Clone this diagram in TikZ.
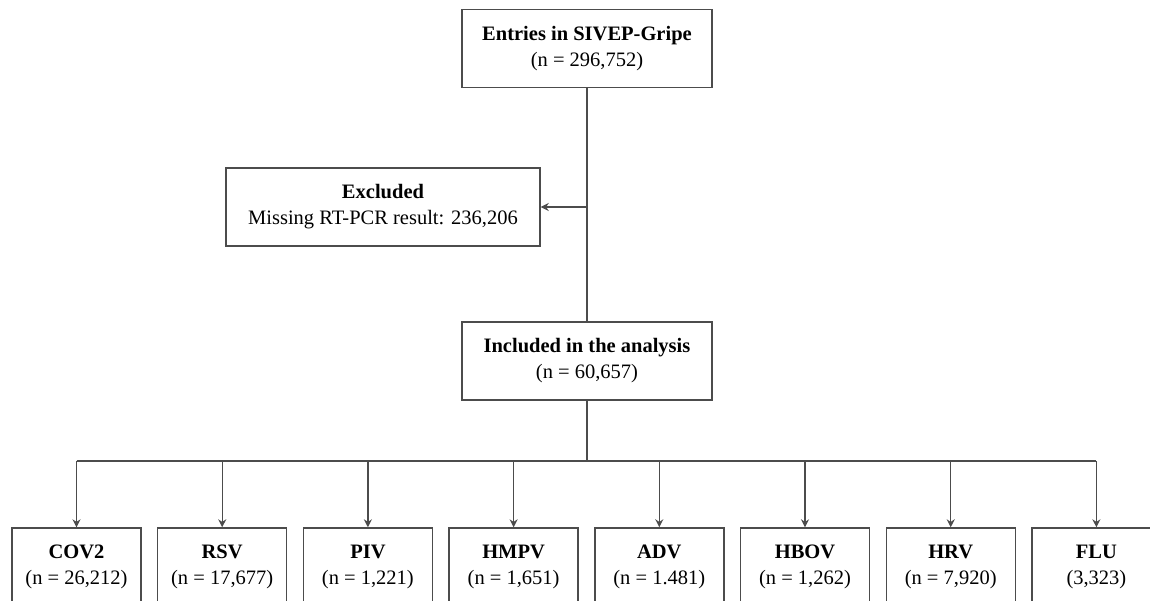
\documentclass[tikz,border=0pt]{standalone}
\usepackage{fontspec}
\setmainfont{Liberation Serif}
\usetikzlibrary{arrows.meta}
\tikzset{
  box/.style={draw=black!70, line width=0.7pt, fill=white, minimum height=39pt, inner sep=0pt, align=center, font=\fontsize{10.25}{13}\selectfont},
  bigbox/.style={box, minimum width=125pt},
  smallbox/.style={box, minimum width=64.5pt},
  conn/.style={draw=black!70, line width=0.7pt},
  arr/.style={conn, -{Stealth[length=4pt,width=4pt]}}
}
\begin{document}
\begin{tikzpicture}[x=0.5pt,y=-0.5pt]
\useasboundingbox (0,0) rectangle (1150,600);
\node[bigbox] (top) at (587,48.5) {\textbf{Entries in SIVEP-Gripe}\\(n = 296,752)};
\node[box, minimum width=157pt] (exc) at (383,207) {\textbf{Excluded}\\Missing RT-PCR result: 236,206};
\node[bigbox] (inc) at (587,361) {\textbf{Included in the analysis}\\(n = 60,657)};
\node[smallbox] (b1) at (76.5,567) {\textbf{COV2}\\(n = 26,212)};
\node[smallbox] (b2) at (222.2,567) {\textbf{RSV}\\(n = 17,677)};
\node[smallbox] (b3) at (367.9,567) {\textbf{PIV}\\(n = 1,221)};
\node[smallbox] (b4) at (513.6,567) {\textbf{HMPV}\\(n = 1,651)};
\node[smallbox] (b5) at (659.3,567) {\textbf{ADV}\\(n = 1.481)};
\node[smallbox] (b6) at (805,567) {\textbf{HBOV}\\(n = 1,262)};
\node[smallbox] (b7) at (950.7,567) {\textbf{HRV}\\(n = 7,920)};
\node[smallbox] (b8) at (1096.4,567) {\textbf{FLU}\\(3,323)};
\coordinate (bus) at (587,461);
\draw[conn] (top.south) -- (inc.north);
\draw[arr] (top.south |- exc.east) -- (exc.east);
\draw[conn] (inc.south) -- (bus);
\draw[conn] (bus -| b1) -- (bus -| b8);
\foreach \b in {b1,b2,b3,b4,b5,b6,b7,b8}{
  \draw[arr] (bus -| \b) -- (\b.north);
}
\end{tikzpicture}
\end{document}
